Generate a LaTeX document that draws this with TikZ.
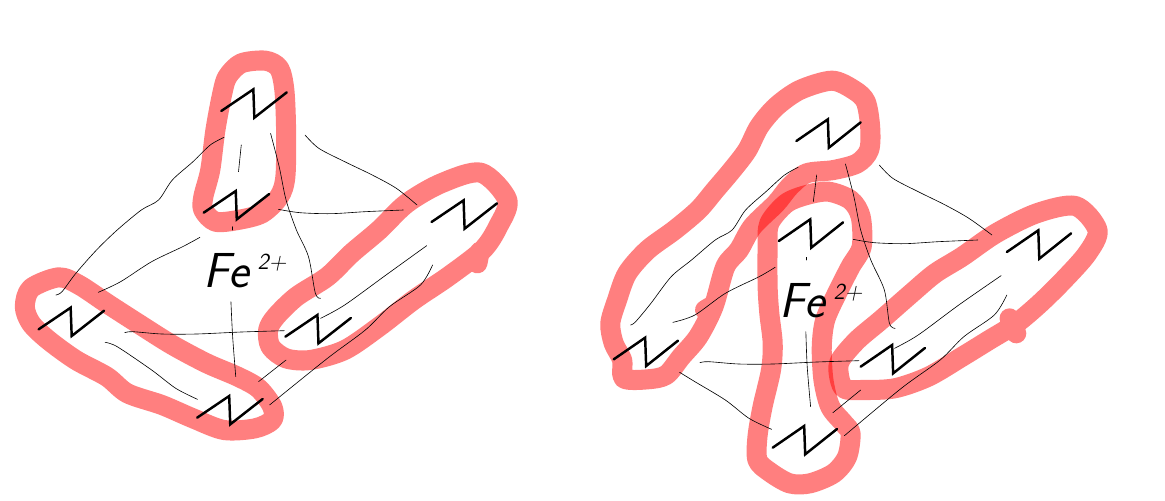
\documentclass[tikz,border=0pt]{standalone}
\usepackage{xcolor}
\usetikzlibrary{positioning}

\begin{document}
\begin{tikzpicture}[
  x=0.02cm/3,y=-0.02cm/3,
  ring/.style={draw=red,draw opacity=0.5,line width=11.4pt,line cap=round,line join=round},
  bond/.style={black,line width=0.35pt,line cap=round},
  zigzag/.style={black,line width=1.4pt,line cap=round,line join=miter},
  metal/.style={inner sep=0pt,font=\sffamily\itshape\fontsize{28}{28}\selectfont}
]

\useasboundingbox (0,0) rectangle (3495,1500);

% left complex
\begin{scope}[shift={(0,90)},xscale=1.034]
\draw[ring] plot[smooth cycle,tension=0.5] coordinates {(700,100) (770,92) (810,115) (825,180) (830,300) (828,440) (810,500) (760,550) (690,570) (625,575) (590,540) (590,500) (610,420) (625,300) (645,190) (660,140)};
\draw[ring] plot[smooth cycle,tension=0.5] coordinates {(1395,428) (1472,510) (1445,590) (1400,660) (1300,740) (1200,810) (1100,890) (1000,960) (900,990) (830,985) (785,950) (778,900) (800,860) (860,800) (950,740) (1020,670) (1100,600) (1180,520) (1280,460)} (1392,665) -- (1385,700);
\draw[ring] plot[smooth cycle,tension=0.5] coordinates {(72,830) (90,775) (170,742) (230,765) (310,820) (400,880) (500,945) (600,1000) (690,1040) (750,1075) (790,1130) (790,1170) (740,1195) (650,1200) (560,1165) (470,1125) (370,1090) (310,1040) (220,990) (140,930) (90,880)};

\draw[bond] plot[smooth] coordinates {(650,322) (610,345) (560,395) (500,450) (460,510) (410,540) (340,600) (280,660) (220,730) (180,785) (162,795)};
\draw[bond] (700,345) -- (692,425);
\draw[bond] plot[smooth] coordinates {(785,310) (810,410) (830,510) (860,600) (895,680) (915,790) (930,805)};
\draw[bond] plot[smooth] coordinates {(885,315) (925,355) (1000,395) (1080,435) (1150,475) (1210,525)};
\draw[bond] plot[smooth] coordinates {(808,538) (870,548) (960,551) (1060,545) (1170,540)};
\draw[bond] (673,590) -- (673,600);
\draw[bond] plot[smooth] coordinates {(580,622) (530,650) (440,695) (350,755) (285,787)};
\draw[bond] plot[smooth] coordinates {(670,815) (675,920) (684,1040)};
\draw[bond] plot[smooth] coordinates {(362,908) (385,905) (470,912) (570,912) (700,906) (825,902)};
\draw[bond] plot[smooth] coordinates {(305,937) (340,950) (440,1020) (510,1075) (573,1108)};
\draw[bond] plot[smooth] coordinates {(930,865) (1000,825) (1120,735) (1238,647)};
\draw[bond] (830,990) -- (750,1055);
\draw[bond] plot[smooth] coordinates {(1255,705) (1220,765) (1130,830) (1060,900) (950,985) (782,1125)};

\foreach \cx/\cy in {737/215,686/520,1347/548,207/870,923/892,667/1135}
  \draw[zigzag] (\cx,\cy) ++(-95,28) -- ++(93,-65) -- ++(3,85) -- ++(94,-76);

\node[metal] (feL) at (711,722) {Fe\,\raisebox{10pt}{\fontsize{13}{13}\selectfont 2+}};
\end{scope}

% right complex
\begin{scope}[shift={(1770,180)},xscale=1.015]
\draw[ring] plot[smooth cycle,tension=0.5] coordinates {(715,62) (780,90) (815,125) (828,200) (825,270) (790,310) (720,330) (640,340) (590,380) (550,430) (480,500) (440,570) (400,620) (365,740) (320,830) (270,890) (225,945) (170,958) (100,955) (95,900) (70,850) (60,790) (80,720) (110,640) (170,570) (250,510) (320,450) (370,390) (420,330) (465,270) (500,200) (550,140) (620,90)} (365,735) -- (340,750);
\draw[ring] plot[smooth cycle,tension=0.5] coordinates {(705,395) (770,420) (800,470) (803,560) (770,620) (730,700) (695,780) (685,860) (690,960) (710,1040) (750,1090) (770,1120) (760,1190) (720,1240) (650,1270) (590,1270) (530,1235) (495,1200) (495,1130) (510,1040) (535,930) (540,850) (530,760) (525,680) (525,560) (530,490) (580,430) (640,405)};
\draw[ring] plot[smooth cycle,tension=0.5] coordinates {(1435,438) (1500,510) (1470,580) (1400,660) (1330,730) (1260,790) (1180,840) (1100,890) (1000,950) (900,985) (800,990) (750,985) (735,940) (740,900) (790,840) (860,780) (950,700) (1020,640) (1100,590) (1200,520) (1320,460)} (1240,775) -- (1260,820);

\draw[bond] plot[smooth] coordinates {(615,322) (575,345) (520,395) (460,450) (420,510) (370,540) (300,600) (240,650) (180,730) (135,785) (120,795)};
\draw[bond] (670,345) -- (660,425);
\draw[bond] plot[smooth] coordinates {(755,312) (780,410) (800,510) (830,600) (870,690) (885,790) (902,805)};
\draw[bond] plot[smooth] coordinates {(855,315) (895,355) (970,395) (1050,435) (1120,475) (1188,525)};
\draw[bond] plot[smooth] coordinates {(778,538) (840,548) (930,551) (1030,545) (1146,540)};
\draw[bond] (640,592) -- (640,600);
\draw[bond] plot[smooth] coordinates {(547,622) (500,650) (400,700) (310,765) (245,787)};
\draw[bond] plot[smooth] coordinates {(638,815) (642,920) (652,1040)};
\draw[bond] plot[smooth] coordinates {(325,908) (350,905) (440,912) (540,912) (670,906) (795,902)};
\draw[bond] plot[smooth] coordinates {(265,937) (310,965) (400,1020) (470,1075) (537,1108)};
\draw[bond] plot[smooth] coordinates {(900,865) (970,825) (1090,735) (1215,647)};
\draw[bond] (800,990) -- (718,1058);
\draw[bond] plot[smooth] coordinates {(1232,705) (1195,765) (1105,830) (1035,900) (920,985) (752,1127)};

\foreach \cx/\cy in {705/215,653/515,1327/548,165/870,895/892,635/1135}
  \draw[zigzag] (\cx,\cy) ++(-95,28) -- ++(93,-65) -- ++(3,85) -- ++(94,-76);

\node[metal] (feR) at (683,722) {Fe\,\raisebox{10pt}{\fontsize{13}{13}\selectfont 2+}};
\end{scope}

\end{tikzpicture}
\end{document}
